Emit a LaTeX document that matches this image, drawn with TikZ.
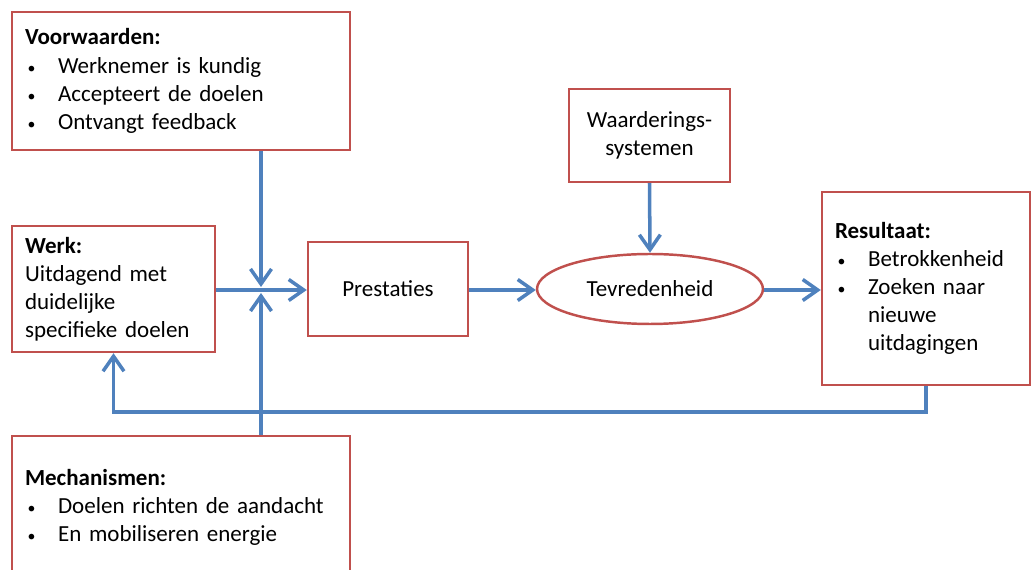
\documentclass[tikz,border=0pt]{standalone}
\usepackage{fontspec}
\setmainfont{Carlito}
\usetikzlibrary{arrows.meta,shapes.geometric,positioning}
\definecolor{boxred}{HTML}{C0504D}
\definecolor{arrblue}{HTML}{4F81BD}
\newcommand{\itm}[1]{\makebox[0.66cm][l]{\hspace{0.05cm}{\small\textbullet}}#1}
\newcommand{\ind}[1]{\hspace*{0.66cm}#1}

\begin{document}
\begin{tikzpicture}[x=0.02cm,y=-0.02cm,
  every node/.style={font=\fontsize{13.1}{16}\selectfont},
  box/.style={draw=boxred,line width=1.4pt,fill=white,inner xsep=0.26cm,inner ysep=0pt},
  lbox/.style={box,align=left},
  cbox/.style={box,align=center},
  arr/.style={draw=arrblue,line width=2pt,-{Straight Barb[length=0.3cm,width=0.42cm]}}]
\useasboundingbox (0,0) rectangle (1032,570);
\clip (0,0) rectangle (1032,570);
\node[lbox,text width=6.24cm,minimum height=2.76cm] (vw) at (181,81)
  {\textbf{Voorwaarden:}\\ \itm{Werknemer is kundig}\\ \itm{Accepteert de doelen}\\ \itm{Ontvangt feedback}};
\node[lbox,text width=3.54cm,minimum height=2.52cm] (werk) at (113.5,289)
  {\textbf{Werk:}\\ Uitdagend met\\ duidelijke\\ specifieke doelen};
\node[cbox,minimum width=3.2cm,minimum height=1.88cm] (prest) at (388,289) {Prestaties};
\node[box,ellipse,minimum width=4.52cm,minimum height=1.4cm] (tevr) at (650,289) {Tevredenheid};
\node[cbox,minimum width=3.22cm,minimum height=1.86cm] (waard) at (649.5,135.5) {Waarderings-\\systemen};
\node[lbox,text width=3.64cm,minimum height=3.86cm] (res) at (926,288.5)
  {\textbf{Resultaat:}\\ \itm{Betrokkenheid}\\ \itm{Zoeken naar}\\ \ind{nieuwe}\\ \ind{uitdagingen}};
\node[lbox,text width=6.24cm,minimum height=2.86cm] (mech) at (181,507.5)
  {\textbf{Mechanismen:}\\ \itm{Doelen richten de aandacht}\\ \itm{En mobiliseren energie}};
\coordinate (jn) at (261,290);
\draw[arr,shorten >=0.06cm] (jn |- vw.south) -- (jn);
\draw[arr,shorten >=0.06cm] (jn |- mech.north) -- (jn);
\draw[arr] (werk.east |- jn) -- (prest.west |- jn);
\draw[arr] (prest.east |- jn) -- (tevr.west |- jn);
\draw[arr] (waard.south) -- (tevr.north);
\draw[arr] (tevr.east |- jn) -- (res.west |- jn);
\draw[arr] (res.south) -- ++(0,26) -| (werk.south);
\end{tikzpicture}
\end{document}
